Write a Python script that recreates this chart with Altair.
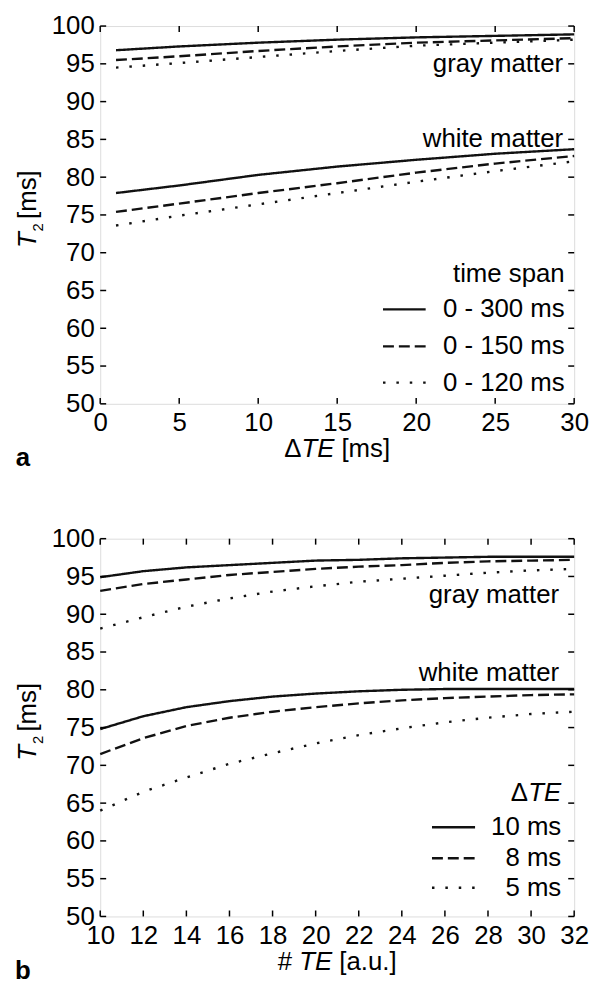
import altair as alt
import pandas as pd

# ---------------- data: panel a (T2 vs delta TE) ----------------
a_x = [1, 5, 10, 15, 20, 25, 30]
a_gray_300 = [96.8, 97.3, 97.8, 98.2, 98.5, 98.7, 98.9]
a_gray_150 = [95.5, 96.0, 96.7, 97.3, 97.8, 98.1, 98.4]
a_gray_120 = [94.5, 95.1, 95.9, 96.7, 97.4, 97.8, 98.2]
a_white_300 = [77.9, 78.9, 80.3, 81.4, 82.3, 83.1, 83.7]
a_white_150 = [75.4, 76.5, 77.9, 79.2, 80.6, 81.8, 82.8]
a_white_120 = [73.6, 74.9, 76.4, 77.9, 79.4, 80.8, 82.1]
a_labels = ["0 - 300 ms", "0 - 150 ms", "0 - 120 ms"]
a_xticks = [0, 5, 10, 15, 20, 25, 30]

# ---------------- data: panel b (T2 vs number of TE) ----------------
b_x = [10, 12, 14, 16, 18, 20, 22, 24, 26, 28, 30, 32]
b_gray_10 = [94.9, 95.7, 96.2, 96.5, 96.8, 97.1, 97.2, 97.4, 97.5, 97.6, 97.6, 97.6]
b_gray_8 = [93.1, 94.0, 94.6, 95.2, 95.6, 96.0, 96.3, 96.5, 96.8, 97.0, 97.1, 97.2]
b_gray_5 = [88.1, 89.6, 91.0, 92.1, 93.0, 93.7, 94.3, 94.7, 95.1, 95.5, 95.8, 96.0]
b_white_10 = [74.8, 76.5, 77.7, 78.5, 79.1, 79.5, 79.8, 80.0, 80.1, 80.1, 80.1, 80.1]
b_white_8 = [71.5, 73.6, 75.2, 76.3, 77.1, 77.7, 78.2, 78.6, 78.9, 79.1, 79.3, 79.4]
b_white_5 = [64.0, 66.5, 68.4, 70.2, 71.6, 72.9, 74.0, 74.9, 75.7, 76.3, 76.8, 77.1]
b_labels = ["10 ms", "8 ms", "5 ms"]
b_xticks = [10, 12, 14, 16, 18, 20, 22, 24, 26, 28, 30, 32]

y_ticks = [50, 55, 60, 65, 70, 75, 80, 85, 90, 95, 100]

FONT = "Liberation Sans"
FS = 26
W, H = 478, 381
INK = "#111111"
DASHES = [[1, 0], [11, 5], [2.5, 11]]


def long_df(x, series):
    rows = []
    for tissue, label, vals in series:
        for xi, v in zip(x, vals):
            rows.append({"x": xi, "y": v, "tissue": tissue, "series": label})
    return pd.DataFrame(rows)


def one():
    return pd.DataFrame({"k": [0]})


def panel(df, labels, xdom, xticks, ann, legend_title_parts, legend_pos,
          sample_x, xtitle_parts, letter):
    xs = alt.Scale(domain=xdom, nice=False, zero=False)
    ys = alt.Scale(domain=[50, 100], nice=False, zero=False)
    xax = alt.Axis(values=xticks, title=None, ticks=False, domain=False, grid=False,
                   labelFont=FONT, labelFontSize=FS, labelColor="black", labelPadding=6,
                   labelFlush=False, labelOverlap=False, format="d")
    yax = alt.Axis(values=y_ticks, title=None, ticks=False, domain=False, grid=False,
                   labelFont=FONT, labelFontSize=FS, labelColor="black", labelPadding=6,
                   labelFlush=False, labelOverlap=False, format="d")
    dash = alt.StrokeDash("series:N", scale=alt.Scale(domain=labels, range=DASHES), legend=None)

    lines = alt.Chart(df).mark_line(strokeWidth=2.4, color=INK, strokeCap="butt").encode(
        x=alt.X("x:Q", scale=xs, axis=xax),
        y=alt.Y("y:Q", scale=ys, axis=yax),
        strokeDash=dash,
        detail="tissue:N",
    )

    xt = pd.DataFrame({"x": xticks})
    yt = pd.DataFrame({"y": y_ticks})
    tk = dict(color="black", strokeWidth=1.5)
    t_bottom = alt.Chart(xt).mark_rule(**tk).encode(
        x=alt.X("x:Q", scale=xs, axis=xax), y=alt.value(H), y2=alt.value(H - 6))
    t_top = alt.Chart(xt).mark_rule(**tk).encode(
        x=alt.X("x:Q", scale=xs, axis=xax), y=alt.value(0), y2=alt.value(6))
    t_left = alt.Chart(yt).mark_rule(**tk).encode(
        y=alt.Y("y:Q", scale=ys, axis=yax), x=alt.value(0), x2=alt.value(6))
    t_right = alt.Chart(yt).mark_rule(**tk).encode(
        y=alt.Y("y:Q", scale=ys, axis=yax), x=alt.value(W - 6), x2=alt.value(W))

    # in-plot annotations
    ann_df = pd.DataFrame(ann, columns=["x", "y", "t"])
    ann_txt = alt.Chart(ann_df).mark_text(align="right", baseline="middle", font=FONT,
                                          fontSize=FS, color="black").encode(
        x=alt.X("x:Q", scale=xs, axis=xax), y=alt.Y("y:Q", scale=ys, axis=yax), text="t:N")

    # legend samples
    lx, ly = legend_pos  # (right x, list of y: title then entries)
    leg_df = pd.DataFrame({"series": labels, "y": ly[1:], "x1": [sample_x[0]] * 3,
                           "x2": [sample_x[1]] * 3, "xr": [lx] * 3})
    leg_lines = alt.Chart(leg_df).mark_rule(strokeWidth=2.4, color=INK, strokeCap="butt").encode(
        x=alt.X("x1:Q", scale=xs, axis=xax), x2="x2:Q",
        y=alt.Y("y:Q", scale=ys, axis=yax), strokeDash=dash)
    leg_txt = alt.Chart(leg_df).mark_text(align="right", baseline="middle", font=FONT,
                                          fontSize=FS, color="black").encode(
        x=alt.X("xr:Q", scale=xs, axis=xax), y=alt.Y("y:Q", scale=ys, axis=yax), text="series:N")
    lt_layers = []
    for txt, style, dx in legend_title_parts:
        lt_layers.append(
            alt.Chart(pd.DataFrame({"x": [lx], "y": [ly[0]]})).mark_text(
                align="right", baseline="middle", font=FONT, fontSize=FS, color="black",
                fontStyle=style, dx=dx).encode(
                x=alt.X("x:Q", scale=xs, axis=xax), y=alt.Y("y:Q", scale=ys, axis=yax),
                text=alt.value(txt)))

    # axis titles built from pieces (italic + subscript)
    ytitle = [
        alt.Chart(one()).mark_text(angle=270, align="center", baseline="middle", font=FONT,
                                   fontSize=FS, fontStyle="italic", color="black").encode(
            x=alt.value(-73), y=alt.value(216), text=alt.value("T")),
        alt.Chart(one()).mark_text(angle=270, align="center", baseline="middle", font=FONT,
                                   fontSize=15, color="black").encode(
            x=alt.value(-63), y=alt.value(203), text=alt.value("2")),
        alt.Chart(one()).mark_text(angle=270, align="center", baseline="middle", font=FONT,
                                   fontSize=FS, color="black").encode(
            x=alt.value(-73), y=alt.value(170), text=alt.value("[ms]")),
    ]
    xtitle = []
    for txt, style, xoff in xtitle_parts:
        xtitle.append(alt.Chart(one()).mark_text(align="left", baseline="middle", font=FONT,
                                                 fontSize=FS, fontStyle=style, color="black").encode(
            x=alt.value(W / 2 + xoff), y=alt.value(H + 46), text=alt.value(txt)))
    letter_txt = alt.Chart(one()).mark_text(align="center", baseline="middle", font=FONT,
                                            fontSize=FS, fontWeight="bold", color="black").encode(
        x=alt.value(-78), y=alt.value(H + 55), text=alt.value(letter))

    return alt.layer(lines, t_bottom, t_top, t_left, t_right, ann_txt, leg_lines, leg_txt,
                     *lt_layers, *ytitle, *xtitle, letter_txt).properties(width=W, height=H)


df_a = long_df(a_x, [("gray", a_labels[0], a_gray_300), ("gray", a_labels[1], a_gray_150),
                     ("gray", a_labels[2], a_gray_120), ("white", a_labels[0], a_white_300),
                     ("white", a_labels[1], a_white_150), ("white", a_labels[2], a_white_120)])
df_b = long_df(b_x, [("gray", b_labels[0], b_gray_10), ("gray", b_labels[1], b_gray_8),
                     ("gray", b_labels[2], b_gray_5), ("white", b_labels[0], b_white_10),
                     ("white", b_labels[1], b_white_8), ("white", b_labels[2], b_white_5)])

pa = panel(df_a, a_labels, [0, 30], a_xticks,
           [(29.3, 95.0, "gray matter"), (29.3, 85.0, "white matter")],
           [("time span", "normal", 0)],
           (29.4, [67.2, 62.5, 57.6, 52.8]), (17.9, 20.6),
           [("Δ", "normal", -53.5), ("TE", "italic", -36.1), ("[ms]", "normal", 4.3)], "a")
pb = panel(df_b, b_labels, [10, 32], b_xticks,
           [(31.3, 92.5, "gray matter"), (31.3, 82.2, "white matter")],
           [("TE", "italic", 0), ("Δ", "normal", -33.5)],
           (31.4, [66.3, 61.8, 57.7, 53.8]), (25.4, 27.4),
           [("#", "normal", -60.0), ("TE", "italic", -38.3), ("[a.u.]", "normal", 2.1)], "b")

chart = alt.vconcat(pa, pb, spacing=53).properties(
    padding={"left": 6, "top": 0, "right": 5, "bottom": 5}
).configure_view(stroke="black", strokeWidth=2.4).configure(font=FONT)

chart.save("out.html", embed_options={"renderer": "svg", "actions": False})
